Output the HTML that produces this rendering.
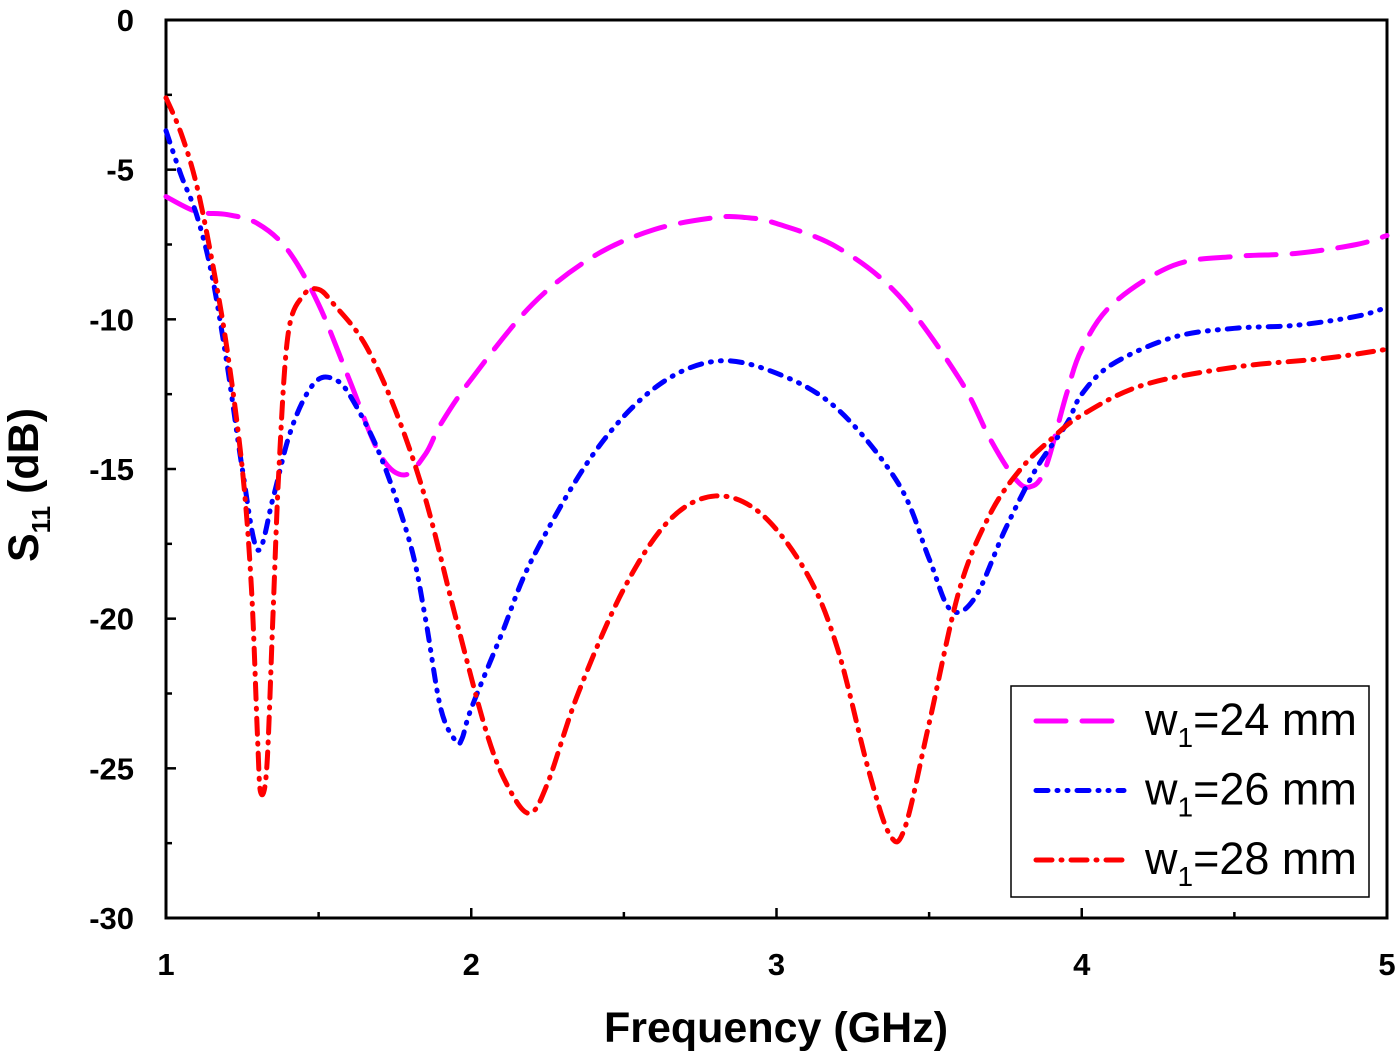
<!DOCTYPE html>
<html><head><meta charset="utf-8"><style>
body{margin:0;background:#fff}
svg text{font-family:"Liberation Sans",Arial,sans-serif}
</style></head><body>
<svg id="chart" width="1400" height="1054" viewBox="0 0 1400 1054" xmlns="http://www.w3.org/2000/svg">
<g id="axes"></g>
<g id="series"></g>
<g id="legend"></g>
</svg>
<script>
const xTicks=[1,2,3,4,5];
const yTicks=[0,-5,-10,-15,-20,-25,-30];
const f24=[1.0,1.1,1.2,1.3,1.4,1.5,1.6,1.7,1.78,1.85,1.9,2.0,2.2,2.4,2.6,2.8,2.9,3.0,3.2,3.4,3.6,3.7,3.78,3.83,3.88,3.95,4.0,4.1,4.3,4.5,4.7,4.9,5.0];
const s24=[-5.9,-6.4,-6.5,-6.8,-7.7,-9.5,-12,-14.5,-15.2,-14.5,-13.5,-12,-9.5,-7.9,-7,-6.6,-6.6,-6.8,-7.6,-9.2,-12,-14,-15.3,-15.6,-15,-12.5,-11,-9.5,-8.2,-7.9,-7.8,-7.5,-7.2];
const f26=[1.0,1.05,1.1,1.15,1.2,1.25,1.3,1.35,1.4,1.45,1.5,1.55,1.6,1.7,1.8,1.85,1.9,1.95,1.97,2.0,2.1,2.2,2.4,2.6,2.8,3.0,3.2,3.4,3.5,3.57,3.65,3.75,3.85,3.95,4.0,4.1,4.3,4.5,4.7,4.9,5.0];
const s26=[-3.7,-5.2,-6.5,-8.5,-11.5,-15,-17.7,-16,-14,-12.7,-12,-12,-12.5,-14.5,-17.5,-20,-23,-24.1,-24,-23,-20.5,-18,-14.5,-12.3,-11.4,-11.8,-13,-15.5,-18,-19.7,-19.3,-17,-15,-13.5,-12.5,-11.5,-10.6,-10.3,-10.2,-9.9,-9.6];
const f28=[1.0,1.05,1.1,1.15,1.2,1.25,1.28,1.3,1.31,1.33,1.35,1.37,1.4,1.45,1.5,1.55,1.65,1.75,1.85,1.95,2.05,2.12,2.19,2.25,2.35,2.5,2.65,2.8,2.95,3.1,3.2,3.3,3.37,3.42,3.5,3.6,3.7,3.8,3.9,4.0,4.2,4.5,4.8,5.0];
const s28=[-2.6,-3.8,-5.5,-8,-11,-15,-19,-24,-25.8,-25,-20,-15,-10.5,-9.2,-9,-9.5,-10.8,-13,-16,-20,-23.8,-25.6,-26.5,-25.5,-22.5,-19,-16.7,-15.9,-16.5,-18.5,-21,-25,-27.2,-27,-23.5,-19,-16.5,-15,-14,-13.2,-12.2,-11.6,-11.3,-11];
const legendLabels=["24","26","28"];

const L=166,R=1387,T=20,B=918;
const X=f=>L+(f-1)/(5-1)*(R-L);
const Y=v=>T+(0-v)/30*(B-T);
const NS="http://www.w3.org/2000/svg";
function mk(tag,attrs,parent){const e=document.createElementNS(NS,tag);for(const k in attrs)e.setAttribute(k,attrs[k]);parent.appendChild(e);return e;}
const axes=document.getElementById('axes');
const frame=mk('rect',{x:L,y:T,width:R-L,height:B-T,fill:'none',stroke:'#000','stroke-width':3},axes);


for(let f=1;f<=5.001;f+=0.5){
  const major=Math.abs(f-Math.round(f))<1e-6;const len=major?10:6;
  const t=mk('line',{x1:X(f),x2:X(f),y1:B,y2:B-len,stroke:'#000','stroke-width':2.5},axes);
  
  
}
for(let v=0;v>=-30.001;v-=2.5){
  const major=Math.abs(v/5-Math.round(v/5))<1e-6;const len=major?10:6;
  const t=mk('line',{x1:L,x2:L+len,y1:Y(v),y2:Y(v),stroke:'#000','stroke-width':2.5},axes);
  
  
}
xTicks.forEach(f=>{const t=mk('text',{x:X(f),y:B+57,'text-anchor':'middle','font-size':31,'font-weight':'bold'},axes);t.textContent=f;

});
yTicks.forEach(v=>{const t=mk('text',{x:L-32,y:Y(v)+11,'text-anchor':'end','font-size':31,'font-weight':'bold'},axes);t.textContent=v;

});
const xt=mk('text',{x:776,y:1042,'text-anchor':'middle','font-size':43,'font-weight':'bold'},axes);xt.textContent='Frequency (GHz)';


const yt=mk('text',{transform:'translate(38,485) rotate(-90)','text-anchor':'middle','font-size':43,'font-weight':'bold'},axes);
yt.innerHTML='S<tspan font-size="26" dy="12">11</tspan><tspan dy="-12"> (dB)</tspan>';



function pathD(fs,vs){const p=fs.map((f,i)=>[X(f),Y(vs[i])]);let d=`M${p[0][0]},${p[0][1]}`;
for(let i=0;i<p.length-1;i++){const p0=p[Math.max(0,i-1)],p1=p[i],p2=p[i+1],p3=p[Math.min(p.length-1,i+2)];
const c1=[p1[0]+(p2[0]-p0[0])/6,p1[1]+(p2[1]-p0[1])/6],c2=[p2[0]-(p3[0]-p1[0])/6,p2[1]-(p3[1]-p1[1])/6];
d+=` C${c1[0]},${c1[1]} ${c2[0]},${c2[1]} ${p2[0]},${p2[1]}`;}return d;}
const styles=[{c:'#ff00ff',dash:'30 16'},{c:'#0000ff',dash:'12 9 1 9 1 9'},{c:'#ff0000',dash:'16 9 1 9'}];
const data=[[f24,s24],[f26,s26],[f28,s28]];
const sg=document.getElementById('series');
data.forEach((d,i)=>{const p=mk('path',{d:pathD(d[0],d[1]),fill:'none',stroke:styles[i].c,'stroke-width':5,'stroke-dasharray':styles[i].dash,'stroke-linecap':'round'},sg);

});
const lg=document.getElementById('legend');
const box=mk('rect',{x:1011,y:686,width:358,height:211,fill:'#fff',stroke:'#000','stroke-width':1.5},lg);


legendLabels.forEach((lab,i)=>{const y=721+i*69.5;
const ln=mk('line',{x1:1036,x2:1124,y1:y,y2:y,stroke:styles[i].c,'stroke-width':5,'stroke-dasharray':styles[i].dash,'stroke-linecap':'round'},lg);


const t=mk('text',{x:1145,y:y+14,'font-size':45},lg);
t.innerHTML='w<tspan font-size="28" dy="12">1</tspan><tspan dy="-12">='+lab+' mm</tspan>';

});
</script>
</body></html>
